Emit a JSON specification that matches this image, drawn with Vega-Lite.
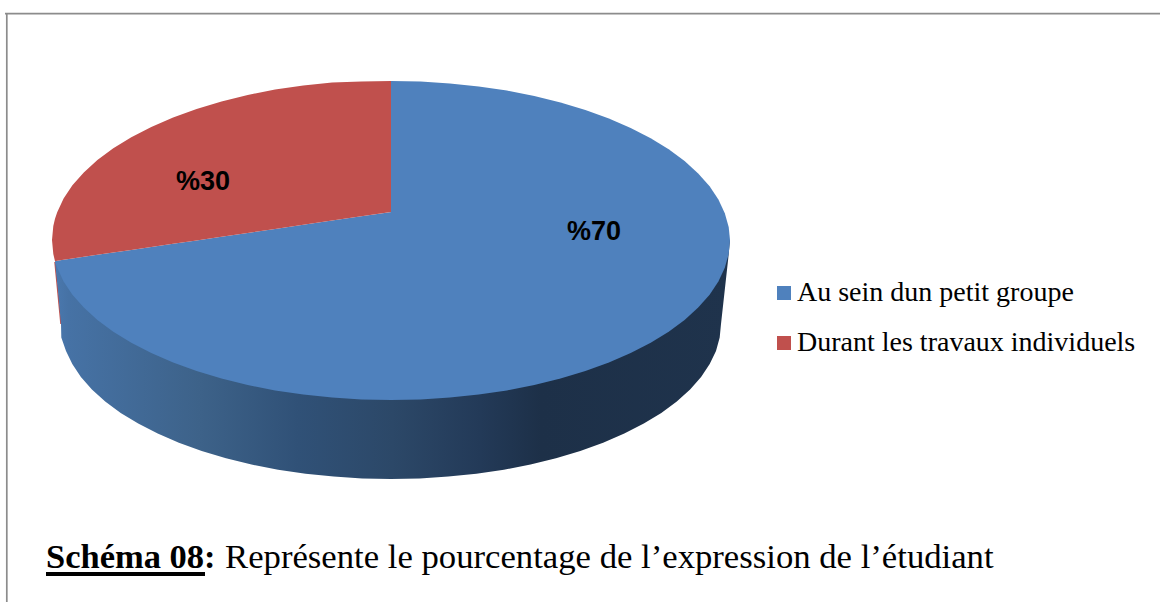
{
"$schema":"https://vega.github.io/schema/vega-lite/v6.json",
"width":1160,"height":602,"padding":0,"autosize":{"type":"none"},
"background":"white",
"config":{"view":{"stroke":null}},
"datasets":{
"face":[
{"serie":"Au sein dun petit groupe","part":"a","x":55,"y":261,"y2":261.3},
{"serie":"Au sein dun petit groupe","part":"a","x":57.2,"y":260.7,"y2":267.8},
{"serie":"Au sein dun petit groupe","part":"a","x":63.6,"y":259.7,"y2":281.4},
{"serie":"Au sein dun petit groupe","part":"a","x":72.4,"y":258.5,"y2":294.7},
{"serie":"Au sein dun petit groupe","part":"a","x":83.8,"y":256.8,"y2":307.6},
{"serie":"Au sein dun petit groupe","part":"a","x":97.4,"y":254.8,"y2":320},
{"serie":"Au sein dun petit groupe","part":"a","x":113.3,"y":252.5,"y2":331.8},
{"serie":"Au sein dun petit groupe","part":"a","x":131.3,"y":249.9,"y2":342.8},
{"serie":"Au sein dun petit groupe","part":"a","x":151.3,"y":247,"y2":353.1},
{"serie":"Au sein dun petit groupe","part":"a","x":173.1,"y":243.8,"y2":362.6},
{"serie":"Au sein dun petit groupe","part":"a","x":196.6,"y":240.4,"y2":371.1},
{"serie":"Au sein dun petit groupe","part":"a","x":221.5,"y":236.7,"y2":378.6},
{"serie":"Au sein dun petit groupe","part":"a","x":247.7,"y":232.9,"y2":385},
{"serie":"Au sein dun petit groupe","part":"a","x":275.1,"y":228.9,"y2":390.4},
{"serie":"Au sein dun petit groupe","part":"a","x":303.3,"y":224.8,"y2":394.5},
{"serie":"Au sein dun petit groupe","part":"a","x":332.1,"y":220.6,"y2":397.6},
{"serie":"Au sein dun petit groupe","part":"a","x":361.4,"y":216.3,"y2":399.4},
{"serie":"Au sein dun petit groupe","part":"a","x":391.5,"y":212,"y2":400},
{"serie":"Au sein dun petit groupe","part":"b","x":391,"y":81,"y2":400},
{"serie":"Au sein dun petit groupe","part":"b","x":420.6,"y":81.6,"y2":399.4},
{"serie":"Au sein dun petit groupe","part":"b","x":449.9,"y":83.4,"y2":397.6},
{"serie":"Au sein dun petit groupe","part":"b","x":478.7,"y":86.5,"y2":394.5},
{"serie":"Au sein dun petit groupe","part":"b","x":506.9,"y":90.6,"y2":390.4},
{"serie":"Au sein dun petit groupe","part":"b","x":534.3,"y":96,"y2":385},
{"serie":"Au sein dun petit groupe","part":"b","x":560.5,"y":102.4,"y2":378.6},
{"serie":"Au sein dun petit groupe","part":"b","x":585.4,"y":109.9,"y2":371.1},
{"serie":"Au sein dun petit groupe","part":"b","x":608.9,"y":118.4,"y2":362.6},
{"serie":"Au sein dun petit groupe","part":"b","x":630.7,"y":127.9,"y2":353.1},
{"serie":"Au sein dun petit groupe","part":"b","x":650.7,"y":138.2,"y2":342.8},
{"serie":"Au sein dun petit groupe","part":"b","x":668.7,"y":149.2,"y2":331.8},
{"serie":"Au sein dun petit groupe","part":"b","x":684.6,"y":161,"y2":320},
{"serie":"Au sein dun petit groupe","part":"b","x":698.2,"y":173.4,"y2":307.6},
{"serie":"Au sein dun petit groupe","part":"b","x":709.6,"y":186.3,"y2":294.7},
{"serie":"Au sein dun petit groupe","part":"b","x":718.4,"y":199.6,"y2":281.4},
{"serie":"Au sein dun petit groupe","part":"b","x":724.8,"y":213.2,"y2":267.8},
{"serie":"Au sein dun petit groupe","part":"b","x":728.7,"y":227,"y2":254},
{"serie":"Au sein dun petit groupe","part":"b","x":730,"y":240,"y2":240},
{"serie":"Durant les travaux individuels","part":"c","x":52,"y":240,"y2":240},
{"serie":"Durant les travaux individuels","part":"c","x":53.3,"y":226,"y2":254},
{"serie":"Durant les travaux individuels","part":"c","x":55,"y":218.7,"y2":261.3},
{"serie":"Durant les travaux individuels","part":"c","x":57.2,"y":212.2,"y2":260.7},
{"serie":"Durant les travaux individuels","part":"c","x":63.6,"y":198.6,"y2":259.7},
{"serie":"Durant les travaux individuels","part":"c","x":72.4,"y":185.3,"y2":258.5},
{"serie":"Durant les travaux individuels","part":"c","x":83.8,"y":172.4,"y2":256.8},
{"serie":"Durant les travaux individuels","part":"c","x":97.4,"y":160,"y2":254.8},
{"serie":"Durant les travaux individuels","part":"c","x":113.3,"y":148.2,"y2":252.5},
{"serie":"Durant les travaux individuels","part":"c","x":131.3,"y":137.2,"y2":249.9},
{"serie":"Durant les travaux individuels","part":"c","x":151.3,"y":126.9,"y2":247},
{"serie":"Durant les travaux individuels","part":"c","x":173.1,"y":117.4,"y2":243.8},
{"serie":"Durant les travaux individuels","part":"c","x":196.6,"y":108.9,"y2":240.4},
{"serie":"Durant les travaux individuels","part":"c","x":221.5,"y":101.4,"y2":236.7},
{"serie":"Durant les travaux individuels","part":"c","x":247.7,"y":95,"y2":232.9},
{"serie":"Durant les travaux individuels","part":"c","x":275.1,"y":89.6,"y2":228.9},
{"serie":"Durant les travaux individuels","part":"c","x":303.3,"y":85.5,"y2":224.8},
{"serie":"Durant les travaux individuels","part":"c","x":332.1,"y":82.4,"y2":220.6},
{"serie":"Durant les travaux individuels","part":"c","x":361.4,"y":81.6,"y2":216.3},
{"serie":"Durant les travaux individuels","part":"c","x":391,"y":81,"y2":212}
],
"side":[
{"x":55,"y":262,"y2":262},
{"x":58,"y":262,"y2":291},
{"x":61,"y":262,"y2":324},
{"x":61.3,"y":262,"y2":337.5},
{"x":66,"y":262,"y2":350.9},
{"x":72.3,"y":262,"y2":364.1},
{"x":80.9,"y":262,"y2":377},
{"x":91.9,"y":262,"y2":389.5},
{"x":105.2,"y":262,"y2":401.5},
{"x":120.7,"y":262,"y2":412.9},
{"x":138.2,"y":262,"y2":423.6},
{"x":157.7,"y":262,"y2":433.6},
{"x":178.9,"y":262,"y2":442.7},
{"x":201.7,"y":262,"y2":451},
{"x":226,"y":262,"y2":458.2},
{"x":251.5,"y":262,"y2":464.5},
{"x":278.1,"y":262,"y2":469.7},
{"x":305.6,"y":262,"y2":473.7},
{"x":333.7,"y":262,"y2":476.6},
{"x":362.2,"y":262,"y2":478.4},
{"x":391,"y":240,"y2":479},
{"x":419.8,"y":240,"y2":478.4},
{"x":448.3,"y":240,"y2":476.6},
{"x":476.4,"y":240,"y2":473.7},
{"x":503.9,"y":240,"y2":469.7},
{"x":530.5,"y":240,"y2":464.5},
{"x":556,"y":240,"y2":458.2},
{"x":580.3,"y":240,"y2":451},
{"x":603.1,"y":240,"y2":442.7},
{"x":624.3,"y":240,"y2":433.6},
{"x":643.8,"y":240,"y2":423.6},
{"x":661.3,"y":240,"y2":412.9},
{"x":676.8,"y":240,"y2":401.5},
{"x":690.1,"y":240,"y2":389.5},
{"x":701.1,"y":240,"y2":377},
{"x":709.7,"y":240,"y2":364.1},
{"x":716,"y":240,"y2":350.9},
{"x":719.7,"y":240,"y2":337.5},
{"x":721,"y":240,"y2":324},
{"x":728.3,"y":240,"y2":258},
{"x":730,"y":240,"y2":240}
],
"sliver":[{"x":55,"y":262},{"x":61,"y":324}],
"pct":[{"label":"%70","x":594,"y":232},{"label":"%30","x":203,"y":182}],
"frame":[{"x":5,"x2":1160,"y":13.7,"y2":13.7},{"x":6.8,"x2":6.8,"y":13,"y2":602}],
"under":[{"x":46,"x2":205,"y":574,"y2":574}],
"capBold":[{"label":"Schéma 08:","x":46,"y":568}],
"capReg":[{"label":"Représente le pourcentage de l’expression de l’étudiant","x":225,"y":568}]
},
"layer":[
{"data":{"name":"frame"},"mark":{"type":"rule","color":"#8c8c8c","strokeWidth":1.7},
 "encoding":{"x":{"field":"x","type":"quantitative","scale":{"domain":[0,1160],"nice":false,"zero":false},"axis":null},"x2":{"field":"x2"},"y":{"field":"y","type":"quantitative","scale":{"domain":[602,0],"nice":false,"zero":false},"axis":null},"y2":{"field":"y2"}}},
{"data":{"name":"sliver"},"mark":{"type":"line","color":"#c0504d","strokeWidth":1.5},
 "encoding":{"x":{"field":"x","type":"quantitative"},"y":{"field":"y","type":"quantitative"}}},
{"data":{"name":"side"},"mark":{"type":"area","color":{"gradient":"linear","x1":0,"y1":0,"x2":1,"y2":0,"stops":[{"offset":0,"color":"#4a78ae"},{"offset":0.02,"color":"#4672a5"},{"offset":0.215,"color":"#3d6289"},{"offset":0.36,"color":"#305177"},{"offset":0.5,"color":"#2c4868"},{"offset":0.63,"color":"#233a58"},{"offset":0.72,"color":"#1d3048"},{"offset":1,"color":"#1f334c"}]}},
 "encoding":{"x":{"field":"x","type":"quantitative"},"y":{"field":"y","type":"quantitative","stack":null},"y2":{"field":"y2"}}},
{"data":{"name":"face"},"mark":{"type":"area"},
 "encoding":{"x":{"field":"x","type":"quantitative"},"y":{"field":"y","type":"quantitative","stack":null},"y2":{"field":"y2"},"detail":{"field":"part","type":"nominal"},
  "color":{"field":"serie","type":"nominal","scale":{"domain":["Au sein dun petit groupe","Durant les travaux individuels"],"range":["#4f81bd","#c0504d"]},
   "legend":{"title":null,"orient":"none","legendX":770,"legendY":279,"padding":0,"symbolType":"square","symbolSize":196,"symbolStrokeWidth":0,"labelFont":"Liberation Serif","labelFontSize":28,"labelColor":"#000000","labelLimit":500,"labelOffset":-1,"rowPadding":22}}}},
{"data":{"name":"pct"},"mark":{"type":"text","font":"Liberation Sans","fontWeight":"bold","fontSize":27,"color":"#000000","align":"center","baseline":"middle"},
 "encoding":{"x":{"field":"x","type":"quantitative"},"y":{"field":"y","type":"quantitative"},"text":{"field":"label"}}},
{"data":{"name":"under"},"mark":{"type":"rule","color":"#000000","strokeWidth":4},
 "encoding":{"x":{"field":"x","type":"quantitative"},"x2":{"field":"x2"},"y":{"field":"y","type":"quantitative"},"y2":{"field":"y2"}}},
{"data":{"name":"capBold"},"mark":{"type":"text","font":"Liberation Serif","fontWeight":"bold","fontSize":34.5,"color":"#000000","align":"left","baseline":"alphabetic"},
 "encoding":{"x":{"field":"x","type":"quantitative"},"y":{"field":"y","type":"quantitative"},"text":{"field":"label"}}},
{"data":{"name":"capReg"},"mark":{"type":"text","font":"Liberation Serif","fontSize":34.7,"color":"#000000","align":"left","baseline":"alphabetic"},
 "encoding":{"x":{"field":"x","type":"quantitative"},"y":{"field":"y","type":"quantitative"},"text":{"field":"label"}}}
]
}
